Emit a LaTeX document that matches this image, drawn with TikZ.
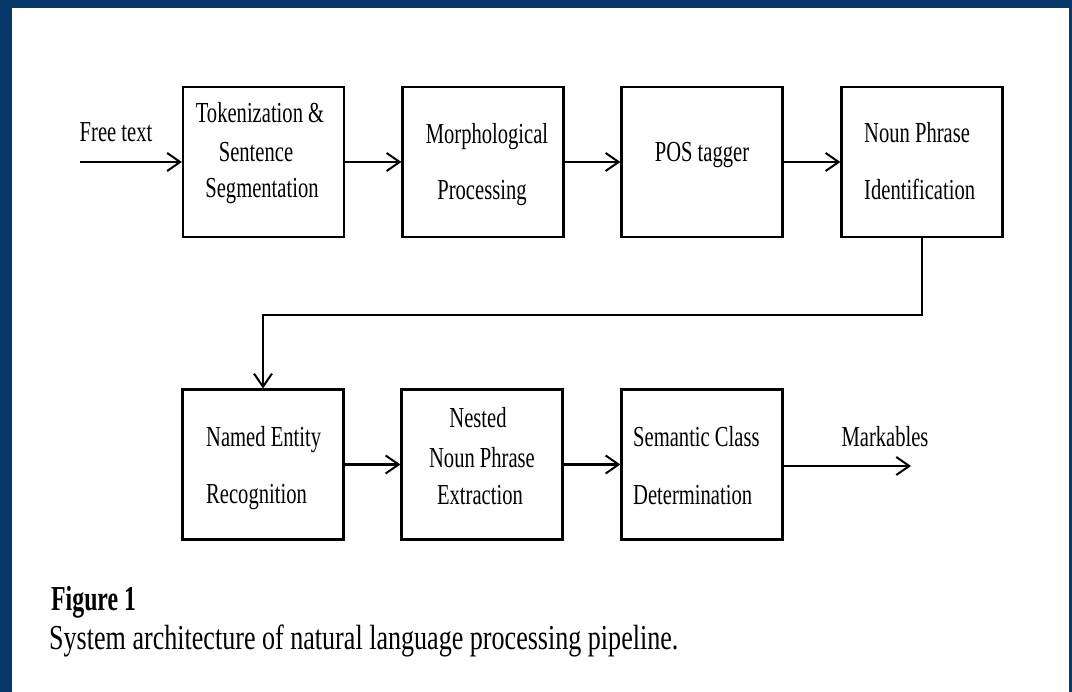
\documentclass[tikz,border=0pt]{standalone}
\usepackage{fontspec}
\usetikzlibrary{arrows.meta}
\newfontfamily\boxfont{Liberation Serif}[FakeStretch=0.71]
\newfontfamily\capfont{Liberation Serif}[FakeStretch=0.745]
\newfontfamily\figfont{Liberation Serif}[FakeStretch=0.68]
\definecolor{navy}{RGB}{7,56,106}
\tikzset{
  box/.style={draw=black, line width=2.2pt, inner sep=0pt, minimum width=161pt, minimum height=150pt},
  lbl/.style={inner sep=0pt, font=\boxfont\fontsize{29}{35}\selectfont},
  arr/.style={draw=black, line width=2.2pt, -{Straight Barb[length=13pt,width=18pt,line width=2pt]}},
}
\begin{document}
\begin{tikzpicture}[x=1pt,y=-1pt]
\useasboundingbox (0,0) rectangle (1072,692);
\fill[navy] (0,0) rectangle (1072,692);
\fill[white] (12,8) rectangle (1069,692);

% row 1
\node[box] (b1) at (263.5,162) {};
\node[box] (b2) at (483,162) {};
\node[box] (b3) at (702,162) {};
\node[box] (b4) at (922,162) {};
% row 2
\node[box] (b5) at (263,464.5) {};
\node[box] (b6) at (482,464.5) {};
\node[box] (b7) at (702,464.5) {};

% labels
\node[lbl, anchor=base] (free) at (116,142) {Free text};
\node[lbl, anchor=base] (t1a) at (260,123) {Tokenization \&};
\node[lbl, anchor=base] (t1b) at (256,162) {Sentence};
\node[lbl, anchor=base] (t1c) at (262,198) {Segmentation};
\node[lbl, anchor=base] (t2a) at (487,144) {Morphological};
\node[lbl, anchor=base] (t2b) at (482,200) {Processing};
\node[lbl, anchor=base] (t3a) at (702,162) {POS tagger};
\node[lbl, anchor=base west] (t4a) at (864,143) {Noun Phrase};
\node[lbl, anchor=base west] (t4b) at (864,200) {Identification};
\node[lbl, anchor=base west] (t5a) at (206,447) {Named Entity};
\node[lbl, anchor=base west] (t5b) at (206,504) {Recognition};
\node[lbl, anchor=base] (t6a) at (478,428) {Nested};
\node[lbl, anchor=base] (t6b) at (482,468) {Noun Phrase};
\node[lbl, anchor=base] (t6c) at (480,505) {Extraction};
\node[lbl, anchor=base west] (t7a) at (633,447) {Semantic Class};
\node[lbl, anchor=base west] (t7b) at (633,505) {Determination};
\node[lbl, anchor=base] (mark) at (885,447) {Markables};

% connectors
\coordinate (start) at (80,162);
\coordinate (bend) at (263,315);
\coordinate (finish) at (911,466);
\draw[arr] (start) -- (b1.west);
\draw[arr] (b1) -- (b2);
\draw[arr] (b2) -- (b3);
\draw[arr] (b3) -- (b4);
\draw[arr] (b4.south) |- (bend) -- (b5.north);
\draw[arr] (b5) -- (b6);
\draw[arr] (b6) -- (b7);
\draw[arr] (b7.east |- finish) -- (finish);

% caption
\node[inner sep=0pt, anchor=base west, font=\figfont\bfseries\fontsize{35}{40}\selectfont] (fig) at (51,611) {Figure 1};
\node[inner sep=0pt, anchor=base west, font=\capfont\fontsize{35}{40}\selectfont] (cap) at (49,649) {System architecture of natural language processing pipeline.};
\end{tikzpicture}
\end{document}
